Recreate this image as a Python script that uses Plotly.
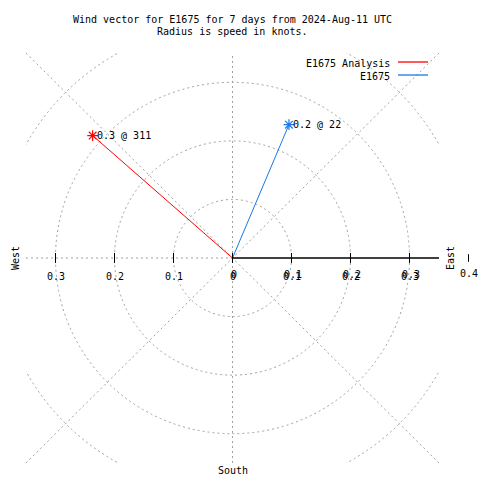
import math
import plotly.graph_objects as go

# ---- data ----
series_names = ["E1675 Analysis", "E1675"]
speeds_kt = [0.316, 0.247]          # radius (knots)
directions_deg = [311.4, 22.8]      # compass direction (deg, clockwise from north)
point_labels = ["0.3 @ 311", "0.2 @ 22"]
series_colors = ["#ff0000", "#1a78e6"]

ring_values = [0.1, 0.2, 0.3, 0.4]
west_ticks = [-0.3, -0.2, -0.1]
west_tick_labels = ["0.3", "0.2", "0.1"]
east_ticks = [0.1, 0.2, 0.3]
east_tick_labels = ["0.1", "0.2", "0.3"]
outer_tick = 0.4
outer_tick_label = "0.4"

title_lines = ["Wind vector for E1675 for 7 days from 2024-Aug-11 UTC",
               "Radius is speed in knots."]

# ---- layout geometry ----
W = H = 480
L, R, T, B = 26, 41, 53, 17
RNG = 0.35
FONT = dict(family="DejaVu Sans Mono", size=10, color="black")
GRID = dict(color="#a0a0a0", width=1, dash="2px,3px")

def px_to_paper_x(px):
    return (px - L) / (W - L - R)

def px_to_paper_y(py):
    return (H - B - py) / (H - T - B)

fig = go.Figure()

def ann(**kw):
    kw.setdefault("showarrow", False)
    kw.setdefault("xanchor", "center")
    kw.setdefault("yanchor", "middle")
    kw.setdefault("font", FONT)
    fig.add_annotation(**kw)

# vectors
for name, s, d, lab, col in zip(series_names, speeds_kt, directions_deg, point_labels, series_colors):
    x = s * math.sin(math.radians(d))
    y = s * math.cos(math.radians(d))
    fig.add_trace(go.Scatter(
        x=[0, x], y=[0, y], mode="lines", name=name,
        line=dict(color=col, width=1), showlegend=False, hoverinfo="skip"))
    fig.add_trace(go.Scatter(
        x=[x], y=[y], mode="markers", showlegend=False, hoverinfo="skip",
        marker=dict(symbol="asterisk-open", size=9, color=col,
                    line=dict(color=col, width=1.2))))
    ann(x=x, y=y, xref="x", yref="y", text=lab, xanchor="left", xshift=2)

shapes = []
# rings
for r in ring_values:
    shapes.append(dict(type="circle", xref="x", yref="y", x0=-r, x1=r, y0=-r, y1=r,
                       line=GRID, layer="below"))
# radial grid lines
shapes.append(dict(type="line", xref="x", yref="y", x0=0, x1=0, y0=-RNG, y1=RNG, line=GRID, layer="below"))
shapes.append(dict(type="line", xref="x", yref="y", x0=-RNG, x1=0, y0=0, y1=0, line=GRID, layer="below"))
shapes.append(dict(type="line", xref="x", yref="y", x0=-RNG, x1=RNG, y0=-RNG, y1=RNG, line=GRID, layer="below"))
shapes.append(dict(type="line", xref="x", yref="y", x0=-RNG, x1=RNG, y0=RNG, y1=-RNG, line=GRID, layer="below"))
# east axis
shapes.append(dict(type="line", xref="x", yref="y", x0=0, x1=RNG, y0=0, y1=0,
                   line=dict(color="black", width=1.3)))
# tick marks
tk = 0.0085
for v in west_ticks + [0] + east_ticks:
    shapes.append(dict(type="line", xref="x", yref="y", x0=v, x1=v, y0=-tk, y1=tk,
                       line=dict(color="black", width=1)))
# outer 0.4 tick (outside plot area)
ox = (outer_tick + RNG) / (2 * RNG)
shapes.append(dict(type="line", xref="paper", yref="y", x0=ox, x1=ox, y0=-0.0065, y1=0.0065,
                   line=dict(color="black", width=1)))

# legend
leg_y = [63, 76]
for name, col, py in zip(series_names, series_colors, leg_y):
    ann(x=px_to_paper_x(392), y=px_to_paper_y(py), xref="paper", yref="paper",
        text=name, xanchor="right")
    shapes.append(dict(type="line", xref="paper", yref="paper",
                       x0=px_to_paper_x(398), x1=px_to_paper_x(428),
                       y0=px_to_paper_y(py - 1), y1=px_to_paper_y(py - 1),
                       line=dict(color=col, width=1.3)))

fig.update_layout(shapes=shapes)

# tick labels
for v, t in zip(west_ticks, west_tick_labels):
    ann(x=v, y=0, xref="x", yref="y", text=t, yshift=-18)
for sh, xs in [(-18, 0), (-16, 1)]:
    ann(x=0, y=0, xref="x", yref="y", text="0", yshift=sh, xshift=xs)
    for v, t in zip(east_ticks, east_tick_labels):
        ann(x=v, y=0, xref="x", yref="y", text=t, yshift=sh, xshift=xs)
ann(x=ox, y=0, xref="paper", yref="y", text=outer_tick_label, yshift=-15)

# direction labels
ann(x=px_to_paper_x(15), y=0, xref="paper", yref="y", text="West", textangle=-90)
ann(x=px_to_paper_x(450), y=0, xref="paper", yref="y", text="East", textangle=-90)
ann(x=0, y=px_to_paper_y(470), xref="x", yref="paper", text="South")

# title
for line, py in zip(title_lines, [20, 32]):
    ann(x=0.5, y=px_to_paper_y(py), xref="paper", yref="paper", text=line)

fig.update_layout(
    width=W, height=H,
    margin=dict(l=L, r=R, t=T, b=B),
    paper_bgcolor="white", plot_bgcolor="white",
    xaxis=dict(range=[-RNG, RNG], visible=False, showgrid=False, zeroline=False),
    yaxis=dict(range=[-RNG, RNG], visible=False, showgrid=False, zeroline=False),
    showlegend=False,
)

fig.write_html("out.html", config={"displayModeBar": False},
               post_script="document.body.style.margin='0px';")
